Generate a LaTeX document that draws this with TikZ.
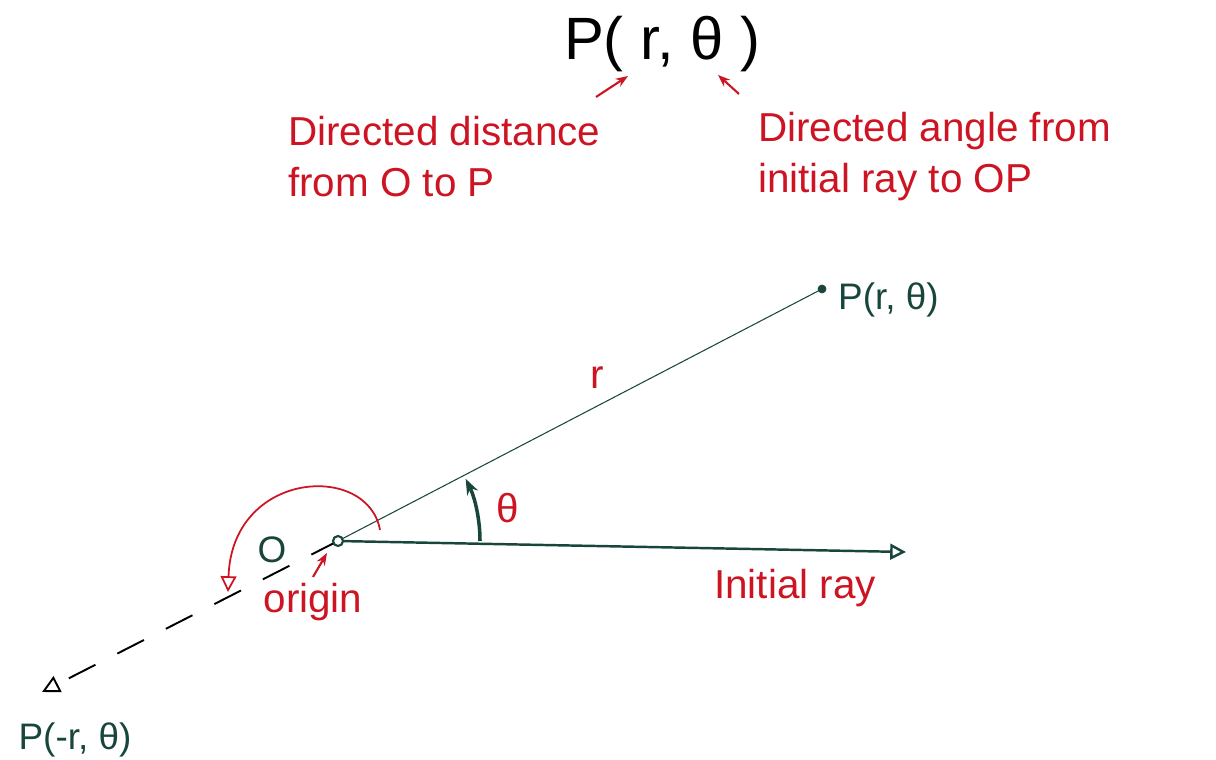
\documentclass[tikz,border=0pt]{standalone}
\usepackage{fontspec}
\setmainfont{Liberation Sans}
\usetikzlibrary{arrows.meta}
\definecolor{inkred}{RGB}{205,20,35}
\definecolor{inkgreen}{RGB}{25,70,60}
\begin{document}
\begin{tikzpicture}[x=0.02cm, y=-0.02cm,
		redtext/.style={text=inkred, font=\fontsize{23}{29}\selectfont, align=left},
		greentext/.style={text=inkgreen, font=\fontsize{21}{28}\selectfont},
		redarrow/.style={draw=inkred, line width=1.2pt, -{Stealth[length=7pt]}}]
		\useasboundingbox (0, 0) rectangle (1216, 760);

		\coordinate (O) at (338, 541);
		\coordinate (P) at (822, 289);
		\coordinate (Q) at (42, 692);
		\coordinate (R) at (906, 552);

		\coordinate (A1) at (596, 97);
		\coordinate (B1) at (628, 76);
		\coordinate (A2) at (739, 94);
		\coordinate (B2) at (718, 75);

		\coordinate (S) at (380, 530);
		\coordinate (E) at (228, 592);
		\coordinate (T) at (327, 553);

		% rays
		\draw[inkgreen, line width=0.6pt] (O) -- (P);
		\draw[inkgreen, line width=1.4pt, -{Triangle[open, length=9pt, width=9pt]}] (O) -- (R);
		\draw[line width=1.1pt, dash pattern=on 17pt off 14pt, -{Triangle[open, length=10pt, width=10pt]}] (O) -- (Q);
		\filldraw[inkgreen] (P) circle (4);
		\filldraw[inkgreen, fill=white, line width=1.2pt] (O) circle (5);

		% angles
		\draw[inkgreen, line width=2pt, -{Stealth[length=9pt]}] (O) ++(0:142) arc (0:-26:142);
		\draw[inkred, line width=1pt, -{Triangle[open, length=9pt, width=9pt]}] (S) .. controls (368, 462) and (232, 470) .. (E);

		% labels
		\node[font=\fontsize{34}{40}\selectfont] (top) at (662, 44) {P( r, θ )};
		\node[redtext, anchor=north west] (dist) at (282, 110) {Directed distance\\from O to P};
		\node[redtext, anchor=north west] (ang) at (752, 106) {Directed angle from\\initial ray to OP};
		\node[greentext, anchor=west] (Plabel) at (832, 300) {P(r, θ)};
		\node[greentext] (Qlabel) at (75, 740) {P(-r, θ)};
		\node[greentext] (Olabel) at (272, 550) {O};
		\node[redtext] (rlabel) at (597, 378) {r};
		\node[redtext] (tlabel) at (508, 508) {θ};
		\node[redtext] (origin) at (313, 602) {origin};
		\node[redtext] (ray) at (795, 588) {Initial ray};

		\draw[redarrow] (origin.north) -- (T);
		\draw[redarrow] (A1) -- (B1);
		\draw[redarrow] (A2) -- (B2);
	\end{tikzpicture}
\end{document}
